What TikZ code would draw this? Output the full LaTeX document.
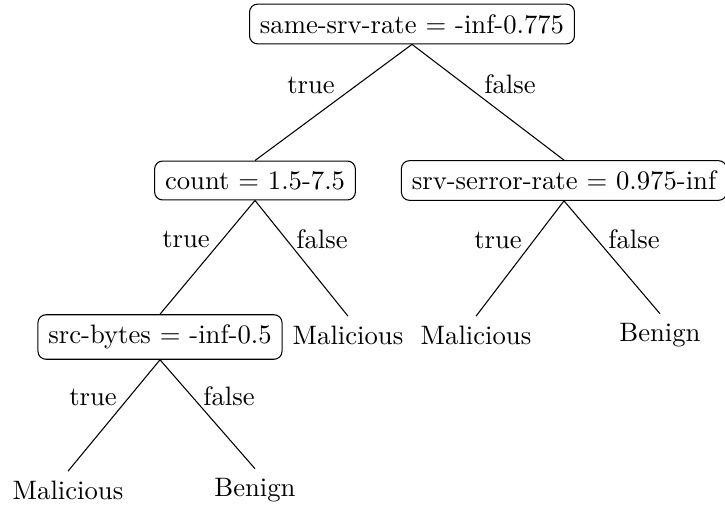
\documentclass[tikz,border=0pt]{standalone}
\begin{document}
\begin{tikzpicture}[x=0.375pt,y=-0.375pt,
  testbox/.style={draw,rounded corners=3pt,inner xsep=3.9pt,inner ysep=3.8pt},
  leaf/.style={inner sep=3.33pt},
  lbl/.style={inner sep=0pt},
  edge/.style={line width=0.4pt}]
\useasboundingbox (0,0) rectangle (725,506);
\node[testbox] (root) at (412,24) {same-srv-rate $=$ -inf-0.775};
\node[testbox] (count) at (255,180.5) {count $=$ 1.5-7.5};
\node[testbox] (srv) at (564,180.5) {srv-serror-rate $=$ 0.975-inf};
\node[testbox] (src) at (160,337) {src-bytes $=$ -inf-0.5};
\node[leaf] (mal1) at (348,335) {Malicious};
\node[leaf] (mal2) at (476,335) {Malicious};
\node[leaf] (ben1) at (660,335) {Benign};
\node[leaf] (mal3) at (68,490) {Malicious};
\node[leaf] (ben2) at (255,490) {Benign};
\draw[edge] (root.south) -- (count.north);
\draw[edge] (root.south) -- (srv.north);
\draw[edge] (count.south) -- (src.north);
\draw[edge] (count.south) -- (mal1.north);
\draw[edge] (srv.south) -- (mal2.north);
\draw[edge] (srv.south) -- (ben1.north);
\draw[edge] (src.south) -- (mal3.north);
\draw[edge] (src.south) -- (ben2.north);
\node[lbl] (l1) at (311,85) {true};
\node[lbl] (l2) at (510,84) {false};
\node[lbl] (l3) at (186,239) {true};
\node[lbl] (l4) at (322,239) {false};
\node[lbl] (l5) at (498,240) {true};
\node[lbl] (l6) at (634,239) {false};
\node[lbl] (l7) at (93,397) {true};
\node[lbl] (l8) at (229,396) {false};
\end{tikzpicture}
\end{document}
